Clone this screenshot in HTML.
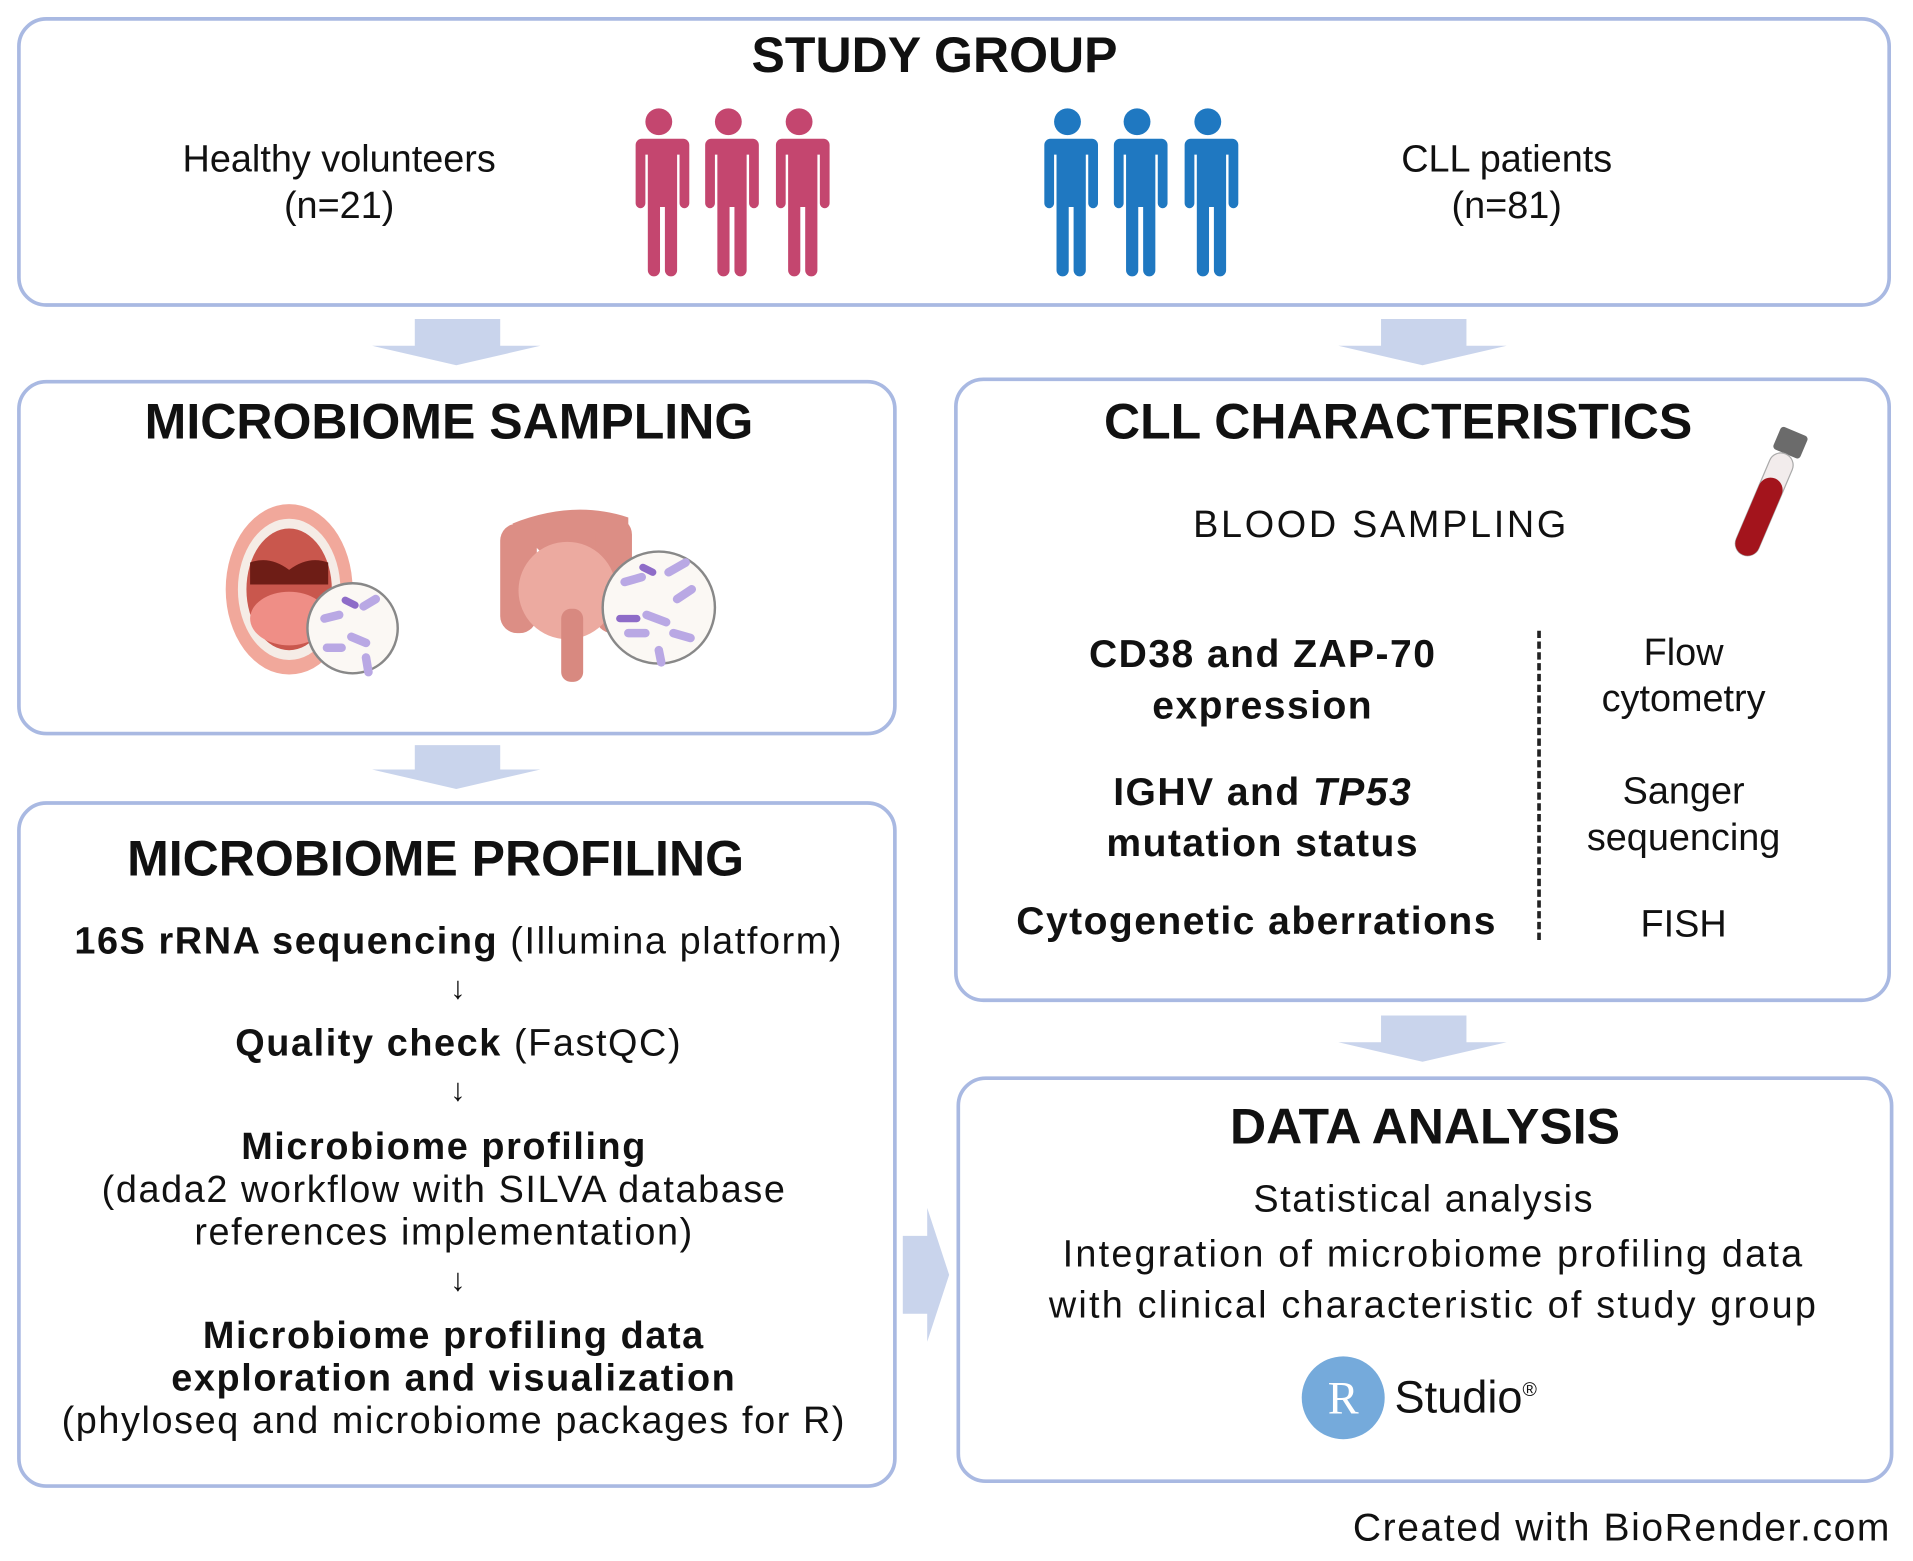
<!DOCTYPE html>
<html><head><meta charset="utf-8"><style>
html,body{margin:0;padding:0;background:#fff;width:1913px;height:1561px;overflow:hidden}
#w{position:absolute;left:0;top:0;width:1568px;height:1282px;transform:scale(1.22,1.2176);transform-origin:0 0;font-family:"Liberation Sans",Arial,sans-serif;color:#111}
.box{position:absolute;border:3px solid #a9b9e2;border-radius:24px;box-sizing:border-box;background:#fff}
.t{position:absolute;white-space:nowrap;text-align:center}
.h{font-weight:bold;font-size:41px}
.n{font-size:31px;letter-spacing:1.3px}
.b{font-weight:bold;font-size:32px;letter-spacing:1.2px}
svg{position:absolute;overflow:visible}
</style></head><body><div id="w">

<div class="box" style="left:14px;top:14px;width:1536px;height:238px"></div>
<div class="t h" style="left:0;width:1532px;top:22px">STUDY GROUP</div>
<div class="t n" style="left:118px;width:320px;top:112px;line-height:38px;letter-spacing:0">Healthy volunteers<br>(n=21)</div>
<div class="t n" style="left:1075px;width:320px;top:112px;line-height:38px;letter-spacing:0">CLL patients<br>(n=81)</div>

<svg width="0" height="0"><defs>
<g id="p"><circle cx="0" cy="-48" r="11"/><path d="M-20,-34 h40 a5,5 0 0 1 5,5 v48 a4,4 0 0 1 -8,0 v-40 h-2 v95 a5,5 0 0 1 -10,0 v-52 h-4 v52 a5,5 0 0 1 -10,0 v-95 h-2 v40 a4,4 0 0 1 -8,0 v-48 a5,5 0 0 1 5,-5z"/></g>
</defs></svg>
<svg style="left:0;top:0" width="1568" height="300">
<g fill="#c4466f"><use href="#p" x="540" y="148"/><use href="#p" x="597" y="148"/><use href="#p" x="655" y="148"/></g>
<g fill="#1f78c1"><use href="#p" x="875" y="148"/><use href="#p" x="932" y="148"/><use href="#p" x="990" y="148"/></g>
</svg>

<svg style="left:0;top:0" width="1568" height="1282">
<g fill="#c9d4ec">
<path d="M340,262 h70 v22 h33 l-69,16 l-69,-16 h35z"/>
<path d="M1132,262 h70 v22 h33 l-69,16 l-69,-16 h35z"/>
<path d="M340,612 h70 v20 h33 l-69,16 l-69,-16 h35z"/>
<path d="M1132,834 h70 v22 h33 l-69,16 l-69,-16 h35z"/>
<path d="M740,1015 h20 v-23 l18,55 l-18,55 v-23 h-20z"/>
</g>
</svg>

<div class="box" style="left:14px;top:312px;width:721px;height:292px"></div>
<div class="t h" style="left:14px;width:708px;top:323px">MICROBIOME SAMPLING</div>
<svg style="left:0;top:0" width="800" height="600">
<ellipse cx="237" cy="484" rx="52" ry="70" fill="#f1a89b"/>
<ellipse cx="237" cy="484" rx="42" ry="58" fill="#f5ece6"/>
<ellipse cx="237" cy="484" rx="35" ry="50" fill="#c9574d"/>
<path d="M205,462 q16,-6 32,6 q16,-12 32,-6 v18 h-64z" fill="#6e1d16"/>
<ellipse cx="237" cy="508" rx="32" ry="22" fill="#ef8e86"/>
<path d="M420,430 q50,-20 95,-5 v40 q-30,-12 -60,0 z" fill="#dc8e85"/>
<rect x="410" y="430" width="30" height="90" rx="14" fill="#dc8e85"/>
<rect x="488" y="425" width="30" height="95" rx="14" fill="#dc8e85"/>
<ellipse cx="465" cy="485" rx="40" ry="40" fill="#ecaaa0"/>
<rect x="460" y="500" width="18" height="60" rx="8" fill="#d88980"/>
<circle cx="289" cy="516" r="37" fill="#fbf8f4" stroke="#888" stroke-width="2"/>
<circle cx="540" cy="499" r="46" fill="#fbf8f4" stroke="#888" stroke-width="2"/>
<g stroke="#b9a8e4" stroke-width="7" stroke-linecap="round">
<path d="M266,508 l12,-3 M298,498 l10,-6 M288,523 l12,5 M300,540 l2,12 M268,532 l12,0"/>
<path d="M512,478 l14,-4 M548,470 l14,-8 M530,505 l16,6 M555,492 l12,-8 M515,520 l14,0 M552,520 l14,4 M540,534 l2,10"/>
</g>
<g stroke="#8e6cc8" stroke-width="6" stroke-linecap="round"><path d="M283,493 l8,4 M527,466 l8,4 M508,508 l14,0"/></g>
</svg>

<div class="box" style="left:782px;top:310px;width:768px;height:513px"></div>
<div class="t h" style="left:782px;width:728px;top:323px">CLL CHARACTERISTICS</div>
<svg style="left:0;top:0" width="1568" height="600">
<g transform="rotate(23 1450 405)">
<rect x="1438" y="350" width="24" height="20" rx="3" fill="#6b6b6b"/>
<rect x="1440" y="370" width="20" height="90" rx="10" fill="#f2ecec" stroke="#aaa" stroke-width="1"/>
<rect x="1440" y="392" width="20" height="68" rx="10" fill="#a3141c"/>
</g>
</svg>
<div class="t n" style="left:880px;width:504px;top:413px;letter-spacing:2.2px">BLOOD SAMPLING</div>
<div class="t b" style="left:800px;width:470px;top:516px;line-height:42px">CD38 and ZAP-70<br>expression</div>
<div class="t b" style="left:800px;width:470px;top:629px;line-height:42px">IGHV and <i>TP53</i><br>mutation status</div>
<div class="t b" style="left:800px;width:460px;top:738px">Cytogenetic aberrations</div>
<div style="position:absolute;left:1260px;top:518px;height:254px;border-left:3px dashed #222"></div>
<div class="t n" style="left:1280px;width:200px;top:517px;line-height:38px;letter-spacing:0">Flow<br>cytometry</div>
<div class="t n" style="left:1280px;width:200px;top:631px;line-height:38px;letter-spacing:0">Sanger<br>sequencing</div>
<div class="t n" style="left:1280px;width:200px;top:741px;letter-spacing:0">FISH</div>

<div class="box" style="left:14px;top:658px;width:721px;height:564px"></div>
<div class="t h" style="left:0;width:714px;top:682px">MICROBIOME PROFILING</div>
<div class="t n" style="left:14px;width:724px;top:755px"><b>16S rRNA sequencing</b> (Illumina platform)</div>
<div class="t n" style="left:14px;width:724px;top:796px;font-size:26px">↓</div>
<div class="t n" style="left:14px;width:724px;top:839px"><b>Quality check</b> (FastQC)</div>
<div class="t n" style="left:14px;width:724px;top:880px;font-size:26px">↓</div>
<div class="t n" style="left:14px;width:700px;top:924px;line-height:35px"><b>Microbiome profiling</b><br>(dada2 workflow with SILVA database<br>references implementation)</div>
<div class="t n" style="left:14px;width:724px;top:1036px;font-size:26px">↓</div>
<div class="t n" style="left:14px;width:716px;top:1079px;line-height:35px"><b>Microbiome profiling data<br>exploration and visualization</b><br>(phyloseq and microbiome packages for R)</div>

<div class="box" style="left:784px;top:884px;width:768px;height:334px"></div>
<div class="t h" style="left:784px;width:768px;top:902px">DATA ANALYSIS</div>
<div class="t n" style="left:784px;width:766px;top:967px">Statistical analysis</div>
<div class="t n" style="left:784px;width:782px;top:1009px;line-height:42px;letter-spacing:1.8px">Integration of microbiome profiling data<br>with clinical characteristic of study group</div>
<svg style="left:0;top:0" width="1568" height="1282">
<circle cx="1101" cy="1148" r="34" fill="#75aadb"/>
<text x="1101" y="1161" font-family="Liberation Serif,serif" font-size="38" fill="#fff" text-anchor="middle">R</text>
</svg>
<div class="t" style="left:1143px;top:1127px;font-size:37px">Studio<sup style="font-size:16px">®</sup></div>

<div class="t n" style="left:1000px;width:550px;top:1236px;text-align:right;font-size:32px;letter-spacing:1.3px">Created with BioRender.com</div>
</div></body></html>
